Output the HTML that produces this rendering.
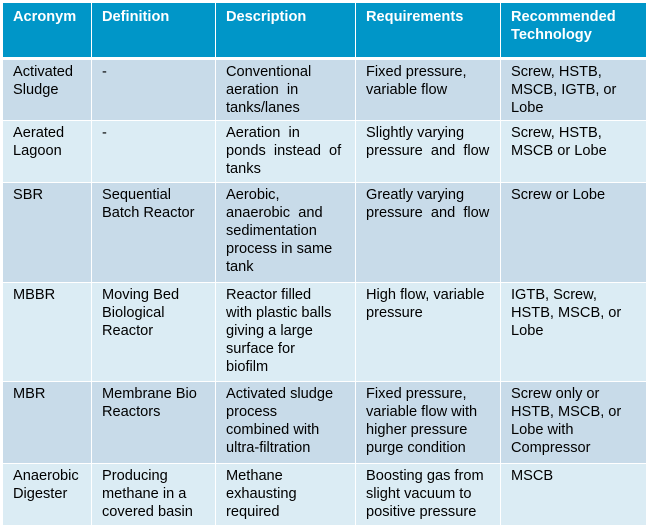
<!DOCTYPE html>
<html><head><meta charset="utf-8"><style>
body{margin:0;width:649px;height:529px;background:#fff;position:relative;overflow:hidden;font-family:"Liberation Sans",Arial,sans-serif;}
.c{position:absolute;box-sizing:border-box;padding:3px 4px 0 10px;font-size:14.6px;line-height:18px;color:#000;text-align:left;white-space:nowrap;overflow:hidden;}
.h{background:#0096c8;color:#fff;font-weight:bold;padding-top:5px;}
.o{background:#c8dbe9;}
.e{background:#dbecf4;}
</style></head><body>
<div id="t"></div>
<script>
const cols=[[3,91],[92,215],[216,355],[356,500],[501,646]];
const rows=[[3,57],[60,120],[121,182],[183,282],[283,381],[382,463],[464,525]];
const data=[
["Acronym","Definition","Description","Requirements","Recommended\nTechnology"],
["Activated\nSludge","-","Conventional\naeration  in\ntanks/lanes","Fixed pressure,\nvariable flow","Screw, HSTB,\nMSCB, IGTB, or\nLobe"],
["Aerated\nLagoon","-","Aeration  in\nponds  instead  of\ntanks","Slightly varying\npressure  and  flow","Screw, HSTB,\nMSCB or Lobe"],
["SBR","Sequential\nBatch Reactor","Aerobic,\nanaerobic  and\nsedimentation\nprocess in same\ntank","Greatly varying\npressure  and  flow","Screw or Lobe"],
["MBBR","Moving Bed\nBiological\nReactor","Reactor filled\nwith plastic balls\ngiving a large\nsurface for\nbiofilm","High flow, variable\npressure","IGTB, Screw,\nHSTB, MSCB, or\nLobe"],
["MBR","Membrane Bio\nReactors","Activated sludge\nprocess\ncombined with\nultra-filtration","Fixed pressure,\nvariable flow with\nhigher pressure\npurge condition","Screw only or\nHSTB, MSCB, or\nLobe with\nCompressor"],
["Anaerobic\nDigester","Producing\nmethane in a\ncovered basin","Methane\nexhausting\nrequired","Boosting gas from\nslight vacuum to\npositive pressure","MSCB"]];
const t=document.getElementById('t');
data.forEach((r,i)=>r.forEach((txt,j)=>{
 const d=document.createElement('div');
 d.className='c '+(i==0?'h':(i%2?'o':'e'));
 
 
 d.style.left=cols[j][0]+'px';d.style.width=(cols[j][1]-cols[j][0])+'px';
 d.style.top=rows[i][0]+'px';d.style.height=(rows[i][1]-rows[i][0])+'px';
 d.style.whiteSpace='pre';
 d.textContent=txt;t.appendChild(d);
}));
</script>
</body></html>
